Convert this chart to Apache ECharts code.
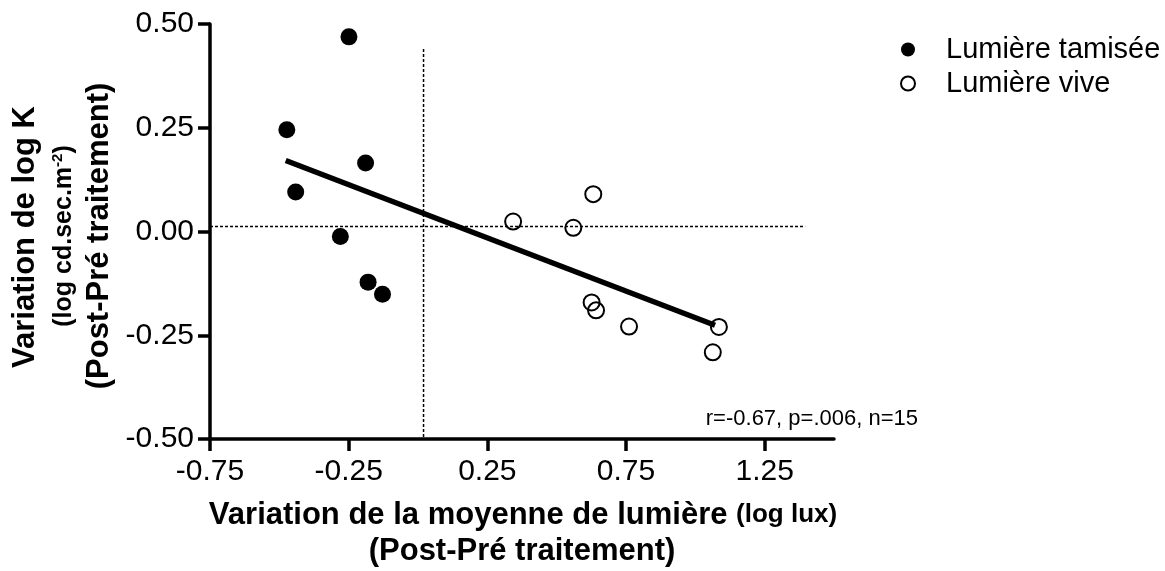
<!DOCTYPE html>
<html>
<head>
<meta charset="utf-8">
<script src="https://cdn.jsdelivr.net/npm/echarts@6/dist/echarts.min.js"></script>
<style>
  html, body { margin: 0; padding: 0; background: #ffffff; }
  #chart { width: 1165px; height: 571px; }
</style>
</head>
<body>
<div id="chart"></div>
<script>
// Dim-light group (filled dots)
const dimX = [-0.249, -0.473, -0.189, -0.441, -0.280, -0.180, -0.128];
const dimY = [0.469, 0.245, 0.165, 0.095, -0.012, -0.122, -0.151];
// Bright-light group (open circles)
const brightX = [0.343, 0.632, 0.560, 0.626, 0.642, 0.761, 1.085, 1.063];
const brightY = [0.024, 0.090, 0.009, -0.171, -0.190, -0.229, -0.230, -0.291];
// Regression line end points
const fitX = [-0.477, 1.071];
const fitY = [0.171, -0.226];
// Dotted reference lines
const refHX = [-0.75, 1.396];
const refHY = [0.012, 0.012];
const refVX = [0.02, 0.02];
const refVY = [0.44, -0.5];
// Axis ticks
const xTicks = [-0.75, -0.25, 0.25, 0.75, 1.25];
const yTicks = [-0.5, -0.25, 0, 0.25, 0.5];
const seriesNames = ['Lumière tamisée', 'Lumière vive'];
const statsText = 'r=-0.67, p=.006, n=15';

const zip = (xs, ys) => xs.map((x, i) => [x, ys[i]]);
const FONT = '"Liberation Sans", Arial, sans-serif';
const BLACK = '#000000';

const chart = echarts.init(document.getElementById('chart'), null, { renderer: 'canvas' });

const axisCommon = {
  type: 'value',
  axisLine: { show: true, onZero: false, lineStyle: { color: BLACK, width: 3.5 } },
  axisTick: { show: true, inside: false, length: 12, lineStyle: { color: BLACK, width: 3.5 } },
  splitLine: { show: false },
  axisLabel: {
    color: BLACK, fontFamily: FONT, fontSize: 30,
    formatter: v => v.toFixed(2)
  }
};

const option = {
  animation: false,
  backgroundColor: '#ffffff',
  grid: { left: 210, right: 331, top: 24, bottom: 132, containLabel: false },
  xAxis: Object.assign({}, axisCommon, {
    min: -0.75, max: 1.5,
    axisTick: Object.assign({}, axisCommon.axisTick, { customValues: xTicks }),
    axisLabel: Object.assign({}, axisCommon.axisLabel, { customValues: xTicks, margin: 18 })
  }),
  yAxis: Object.assign({}, axisCommon, {
    min: -0.5, max: 0.5,
    axisTick: Object.assign({}, axisCommon.axisTick, { customValues: yTicks }),
    axisLabel: Object.assign({}, axisCommon.axisLabel, { customValues: yTicks, margin: 16 })
  }),
  legend: {
    orient: 'vertical',
    left: 900, top: 35,
    itemWidth: 14, itemHeight: 14,
    itemGap: 5,
    padding: 0,
    selectedMode: false,
    data: seriesNames,
    textStyle: { color: BLACK, fontFamily: FONT, fontSize: 29, lineHeight: 29, padding: [0, 0, 0, 26] }
  },
  series: [
    {
      type: 'line', name: 'refH', data: zip(refHX, refHY),
      symbol: 'none', silent: true,
      lineStyle: { color: BLACK, width: 1.5, type: [3, 2] }
    },
    {
      type: 'line', name: 'refV', data: zip(refVX, refVY),
      symbol: 'none', silent: true,
      lineStyle: { color: BLACK, width: 1.5, type: [3, 2] }
    },
    {
      type: 'line', name: 'fit', data: zip(fitX, fitY),
      symbol: 'none', silent: true,
      lineStyle: { color: BLACK, width: 5.5, cap: 'butt' }
    },
    {
      type: 'scatter', name: seriesNames[0], data: zip(dimX, dimY),
      symbol: 'circle', symbolSize: 17,
      itemStyle: { color: BLACK, opacity: 1 },
      emphasis: { disabled: true }
    },
    {
      type: 'scatter', name: seriesNames[1], data: zip(brightX, brightY),
      symbol: 'circle', symbolSize: 16,
      itemStyle: { color: 'rgba(255,255,255,0)', borderColor: BLACK, borderWidth: 2, opacity: 1 },
      emphasis: { disabled: true }
    }
  ],
  graphic: [
    {
      type: 'text', x: 918, y: 419,
      style: { text: statsText, fill: BLACK, font: '22px ' + FONT, align: 'right', verticalAlign: 'middle' }
    },
    {
      type: 'text', x: 523, y: 515,
      style: {
        text: '{a|Variation de la moyenne de lumière }{b|(log lux)}',
        align: 'center', verticalAlign: 'middle',
        rich: {
          a: { fontFamily: FONT, fontWeight: 'bold', fontSize: 31, fill: BLACK, lineHeight: 34 },
          b: { fontFamily: FONT, fontWeight: 'bold', fontSize: 26, fill: BLACK, lineHeight: 34 }
        }
      }
    },
    {
      type: 'text', x: 522, y: 551,
      style: { text: '(Post-Pré traitement)', fill: BLACK, font: 'bold 31px ' + FONT, align: 'center', verticalAlign: 'middle' }
    },
    {
      type: 'text', x: 25, y: 237, rotation: Math.PI / 2,
      style: { text: 'Variation de log K', fill: BLACK, font: 'bold 31px ' + FONT, align: 'center', verticalAlign: 'middle' }
    },
    {
      type: 'text', x: 64, y: 236, rotation: Math.PI / 2,
      style: {
        text: '{a|(log cd.sec.m}{s|-2}{a|)}',
        align: 'center', verticalAlign: 'middle',
        rich: {
          a: { fontFamily: FONT, fontWeight: 'bold', fontSize: 25, fill: BLACK, lineHeight: 28 },
          s: { fontFamily: FONT, fontWeight: 'bold', fontSize: 15, fill: BLACK, verticalAlign: 'top', lineHeight: 28 }
        }
      }
    },
    {
      type: 'text', x: 99, y: 236, rotation: Math.PI / 2,
      style: { text: '(Post-Pré traitement)', fill: BLACK, font: 'bold 31px ' + FONT, align: 'center', verticalAlign: 'middle' }
    }
  ]
};

chart.setOption(option);
</script>
</body>
</html>
